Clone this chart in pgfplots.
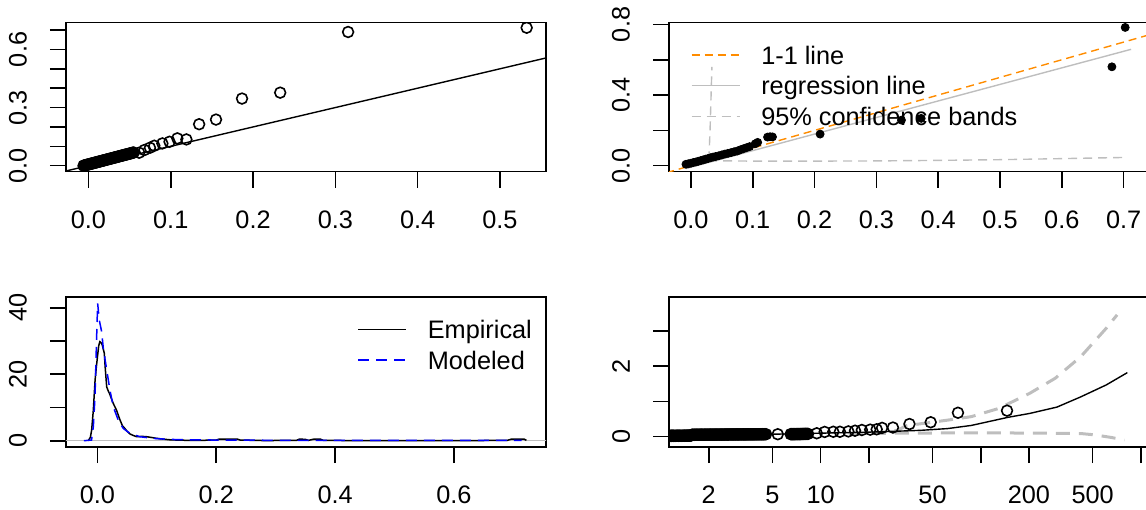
\documentclass[border=0pt]{standalone}
\usepackage{fontspec}
\setmainfont{Liberation Sans}
\usepackage{pgfplots}
\pgfplotsset{compat=1.18}

\definecolor{rorange}{HTML}{FF8C00}
\definecolor{rgray}{HTML}{BEBEBE}
\newcommand{\rtickfont}{\fontsize{12.65}{14.5}\selectfont}

\pgfplotsset{
  rbase/.style={
    scale only axis, width=240pt, anchor=south west,
    axis line style={line width=0.8pt},
    tick align=outside, tick pos=left, major tick length=8pt,
    tick style={line width=0.8pt, black},
    xminorticks=false, yminorticks=false,
    tick label style={font=\rtickfont},
    xticklabel style={anchor=center},
    yticklabel style={anchor=center, rotate=90},
    xticklabel shift=15.8pt, yticklabel shift=16pt,
    clip marker paths=true,
  },
  rlegend/.style={
    legend cell align=left,
    legend image code/.code={\draw[##1] (0pt,0pt) -- (24pt,0pt); \path (34.5pt,0pt);},
    legend style={draw=none, fill=none, inner sep=0pt, outer sep=0pt,
      row sep=6.34pt, column sep=0pt, font=\rtickfont,
      nodes={inner sep=0pt, text height=9.06pt, text depth=0pt}},
  },
  rcirc/.style={only marks, mark=o, mark size=2.7pt, mark options={line width=0.8pt, black}},
}

\begin{document}
\begin{tikzpicture}
\path[use as bounding box] (0,0) rectangle (573pt,254.5pt);
\clip (0,0) rectangle (573pt,254.5pt);

% top left: model vs empirical quantiles
\begin{axis}[rbase, at={(33pt,168.65pt)}, height=74.6pt,
  xmin=-0.0273, xmax=0.556, ymin=-0.031, ymax=0.739,
  xtick={0,0.1,0.2,0.3,0.4,0.5}, xticklabels={0.0,0.1,0.2,0.3,0.4,0.5},
  ytick={0,0.1,0.2,0.3,0.4,0.5,0.6,0.7}, yticklabels={0.0,,,0.3,,,0.6,}]
\addplot[black, line width=0.7pt] coordinates {(-0.04,-0.04) (0.6,0.6)};
\addplot[rcirc] coordinates {
 (-0.006,0.0000) (-0.005,0.0011) (-0.004,0.0022) (-0.003,0.0033) (-0.002,0.0045)
 (-0.001,0.0056) (0.000,0.0067) (0.001,0.0078) (0.002,0.0089) (0.003,0.0100)
 (0.004,0.0112) (0.005,0.0123) (0.006,0.0134) (0.007,0.0145) (0.008,0.0156)
 (0.009,0.0167) (0.010,0.0178) (0.011,0.0190) (0.012,0.0201) (0.013,0.0212)
 (0.014,0.0223) (0.015,0.0234) (0.016,0.0245) (0.017,0.0256) (0.018,0.0268)
 (0.019,0.0279) (0.020,0.0290) (0.021,0.0301) (0.022,0.0312) (0.023,0.0323)
 (0.024,0.0335) (0.025,0.0346) (0.026,0.0357) (0.027,0.0368) (0.028,0.0379)
 (0.029,0.0390) (0.030,0.0401) (0.031,0.0413) (0.032,0.0424) (0.033,0.0435)
 (0.034,0.0446) (0.035,0.0457) (0.036,0.0468) (0.037,0.0479) (0.038,0.0491)
 (0.039,0.0502) (0.040,0.0513) (0.041,0.0524) (0.042,0.0535) (0.043,0.0546)
 (0.044,0.0558) (0.045,0.0569) (0.046,0.0580) (0.047,0.0591) (0.048,0.0602)
 (0.049,0.0613) (0.050,0.0624) (0.051,0.0636) (0.052,0.0647) (0.053,0.0658)
 (0.054,0.0669) (0.055,0.0680)
 (0.0616,0.067) (0.068,0.081) (0.0747,0.0926) (0.080,0.103)
 (0.0898,0.115) (0.0985,0.1235) (0.108,0.141) (0.119,0.1355) (0.1345,0.214)
 (0.155,0.238) (0.1866,0.3465) (0.233,0.377) (0.3155,0.690) (0.5325,0.712)};
\end{axis}

% top right: qq plot with regression line
\begin{axis}[rbase, rlegend, at={(334.5pt,168.65pt)}, height=74.6pt,
  xmin=-0.0354, xmax=0.741, ymin=-0.034, ymax=0.811,
  xtick={0,0.1,0.2,0.3,0.4,0.5,0.6,0.7}, xticklabels={0.0,0.1,0.2,0.3,0.4,0.5,0.6,0.7},
  ytick={0,0.2,0.4,0.6,0.8}, yticklabels={0.0,,0.4,,0.8},
  legend style={at={(0.0456,0.843)}, anchor=north west}]
\addplot[forget plot, rorange, line width=0.7pt, dash pattern=on 4pt off 2.5pt] coordinates {(-0.04,-0.04) (0.75,0.75)};
\addplot[forget plot, rgray, line width=0.7pt] coordinates {(-0.008,-0.0159) (0.712,0.659)};
\addplot[forget plot, rgray, line width=0.7pt, dash pattern=on 4.5pt off 3pt] coordinates {(0.029,0.03) (0.031,0.2) (0.034,0.56)};
\addplot[forget plot, rgray, line width=0.7pt, dash pattern=on 4.5pt off 3pt] coordinates {
 (0.028,0.028) (0.1,0.026) (0.2,0.026) (0.3,0.027) (0.4,0.030) (0.5,0.034) (0.6,0.040) (0.706,0.047)};
\addplot[forget plot, only marks, mark=*, mark size=2pt, black] coordinates {
 (-0.008,0.008) (-0.004,0.011) (0.000,0.014) (0.004,0.018) (0.008,0.021) (0.012,0.025)
 (0.016,0.029) (0.020,0.033) (0.024,0.037) (0.028,0.041) (0.032,0.045) (0.036,0.049)
 (0.040,0.052) (0.045,0.056) (0.050,0.061) (0.055,0.066) (0.060,0.070) (0.065,0.074)
 (0.070,0.079) (0.075,0.083) (0.080,0.090) (0.085,0.096) (0.090,0.102) (0.095,0.108)
 (0.104,0.124) (0.108,0.132) (0.124,0.162) (0.128,0.164) (0.132,0.163) (0.209,0.179)
 (0.3406,0.258) (0.3725,0.268) (0.681,0.560) (0.7025,0.783)};
\addlegendimage{rorange, line width=0.7pt, dash pattern=on 4pt off 2.5pt}
\addlegendentry{1-1 line}
\addlegendimage{rgray, line width=0.7pt}
\addlegendentry{regression line}
\addlegendimage{rgray, line width=0.7pt, dash pattern=on 4.5pt off 3pt}
\addlegendentry{95\% confidence bands}
\end{axis}

% bottom left: density
\begin{axis}[rbase, rlegend, at={(33pt,31pt)}, height=74.85pt,
  xmin=-0.053, xmax=0.755, ymin=-1.89, ymax=43.13,
  xtick={0,0.2,0.4,0.6}, xticklabels={0.0,0.2,0.4,0.6},
  ytick={0,10,20,30,40}, yticklabels={0,,20,,40},
  legend style={at={(0.607,0.8467)}, anchor=north west}]
\addplot[forget plot, rgray, line width=0.7pt] coordinates {(-0.1,0) (0.8,0)};
\addplot[forget plot, black, line width=0.75pt] coordinates {
 (-0.0155,0) (-0.012,1) (-0.0098,3.2) (-0.007,9.2) (-0.004,18.3) (-0.002,22)
 (0.0,25.3) (0.002,28.5) (0.004,29.8) (0.006,29.5) (0.008,28.8) (0.0115,26.3)
 (0.013,22) (0.0155,16.2) (0.018,15) (0.02,14.3) (0.0266,11.2) (0.032,9.2)
 (0.038,6.2) (0.042,4.5) (0.046,3.7) (0.05,2.8) (0.055,2.0) (0.06,1.6) (0.066,1.2)
 (0.075,1.3) (0.083,1.2) (0.09,1.0) (0.1,0.7) (0.11,0.5) (0.12,0.3) (0.14,0.15)
 (0.17,0.1) (0.2,0.2) (0.205,0.5) (0.235,0.5) (0.24,0.2) (0.28,0.05) (0.335,0.1)
 (0.34,0.5) (0.35,0.4) (0.355,0.1) (0.36,0.3) (0.365,0.5) (0.375,0.5) (0.38,0.1)
 (0.45,0.02) (0.6,0.02) (0.69,0.1) (0.697,0.5) (0.718,0.5) (0.722,0.1)};
\addplot[forget plot, blue, line width=0.75pt, dash pattern=on 5.5pt off 3.5pt] coordinates {
 (-0.023,0) (-0.01,0.2) (-0.007,4.2) (-0.0042,13.2) (-0.0025,24.3) (-0.0014,31.3)
 (0.0003,41.3) (0.003,36.3) (0.007,32.8) (0.0098,27.8) (0.0155,21.3) (0.021,15.2)
 (0.0266,10.2) (0.035,6.2) (0.0434,3.7) (0.0547,2.2) (0.0716,1.2) (0.094,0.7)
 (0.12,0.4) (0.16,0.25) (0.25,0.15) (0.4,0.1) (0.6,0.08) (0.714,0.07)};
\addlegendimage{black, line width=0.75pt}
\addlegendentry{Empirical}
\addlegendimage{blue, line width=0.75pt, dash pattern=on 5.5pt off 3.5pt}
\addlegendentry{Modeled}
\end{axis}

% bottom right: return levels
\begin{axis}[rbase, at={(334.5pt,31pt)}, height=74.85pt,
  xmode=log, log basis x=10,
  xmin=1.13, xmax=1125, ymin=-0.293, ymax=3.96,
  xtick={2,5,10,20,50,100,200,500,1000}, xticklabels={2,5,10,,50,,200,500,},
  ytick={0,1,2,3}, yticklabels={0,,2,}]
\addplot[rgray, line width=1.5pt, dash pattern=on 7pt off 4.5pt] coordinates {
 (15,0.08) (23.6,0.095) (30.7,0.19) (34,0.31) (62,0.47) (87.5,0.57) (129,0.80)
 (202,1.23) (292,1.66) (421,2.27) (608,3.08) (711,3.46)};
\addplot[rgray, line width=1.5pt, dash pattern=on 7pt off 4.5pt] coordinates {
 (15,0.08) (30,0.10) (100,0.11) (250,0.10) (421,0.09) (519,0.05) (650,-0.02) (790,-0.095)};
\addplot[black, line width=0.7pt] coordinates {
 (1.13,0.02) (2,0.04) (5,0.07) (10,0.10) (20,0.13) (27.6,0.15) (42,0.18) (62,0.23)
 (87.5,0.32) (148,0.55) (202,0.66) (299,0.84) (421,1.13) (608,1.47) (824,1.82)};
\addplot[rcirc] coordinates {
 (1.08,0.026) (1.09,0.025) (1.10,0.025) (1.11,0.026) (1.12,0.027) (1.13,0.026)
 (1.15,0.026) (1.16,0.025) (1.17,0.024) (1.18,0.026) (1.19,0.027) (1.20,0.026)
 (1.21,0.026) (1.23,0.025) (1.24,0.025) (1.26,0.027) (1.27,0.028) (1.29,0.027)
 (1.30,0.026) (1.32,0.027) (1.33,0.027) (1.35,0.026) (1.36,0.026) (1.38,0.027)
 (1.39,0.028) (1.41,0.028) (1.42,0.027) (1.44,0.028) (1.45,0.029) (1.47,0.029)
 (1.48,0.028) (1.50,0.029) (1.51,0.030) (1.53,0.030) (1.55,0.031)
 (1.57,0.055) (1.59,0.055) (1.61,0.055) (1.63,0.055) (1.65,0.056) (1.67,0.056)
 (1.69,0.056) (1.71,0.056) (1.73,0.056) (1.75,0.056) (1.77,0.057) (1.79,0.057)
 (1.81,0.057) (1.83,0.057) (1.85,0.057) (1.88,0.057) (1.90,0.058) (1.92,0.058)
 (1.95,0.058) (1.97,0.058) (2.00,0.058) (2.02,0.059) (2.05,0.059) (2.07,0.059)
 (2.10,0.059) (2.12,0.059) (2.15,0.059) (2.17,0.060) (2.20,0.060) (2.23,0.060)
 (2.25,0.060) (2.28,0.060) (2.31,0.060) (2.34,0.061) (2.37,0.061) (2.40,0.061)
 (2.43,0.061) (2.46,0.061) (2.49,0.061) (2.52,0.062) (2.55,0.062) (2.58,0.062)
 (2.61,0.062) (2.64,0.062) (2.67,0.062) (2.71,0.063) (2.74,0.063) (2.78,0.063)
 (2.81,0.063) (2.85,0.063) (2.88,0.063) (2.92,0.064) (2.95,0.064) (2.99,0.064)
 (3.03,0.064) (3.06,0.064) (3.10,0.064) (3.14,0.065) (3.18,0.065) (3.22,0.065)
 (3.26,0.065) (3.30,0.065) (3.34,0.065) (3.38,0.066) (3.42,0.066) (3.46,0.066)
 (3.50,0.066) (3.55,0.066) (3.59,0.066) (3.64,0.067) (3.68,0.067) (3.73,0.067)
 (3.77,0.067) (3.82,0.067) (3.87,0.067) (3.92,0.068) (3.96,0.068) (4.01,0.068)
 (4.06,0.068) (4.11,0.068) (4.17,0.068) (4.22,0.069) (4.27,0.069) (4.32,0.069)
 (4.38,0.069) (4.44,0.069) (4.50,0.070) (4.56,0.070)
 (5.40,0.070)
 (6.50,0.072) (6.58,0.072) (6.66,0.072) (6.74,0.073) (6.82,0.073) (6.90,0.073)
 (6.99,0.073) (7.07,0.074) (7.16,0.074) (7.25,0.075) (7.34,0.075) (7.43,0.075)
 (7.52,0.076) (7.61,0.076) (7.71,0.077) (7.80,0.077) (7.90,0.078) (8.00,0.078)
 (8.10,0.079) (8.22,0.079) (8.34,0.080)
 (9.46,0.097) (10.6,0.135) (12.0,0.14) (13.2,0.14) (14.9,0.15) (16.4,0.17)
 (18.1,0.19) (20.4,0.20) (22.4,0.21) (24.2,0.25) (28.3,0.26) (35.9,0.36)
 (48.7,0.41) (72.1,0.68) (146,0.74)};
\end{axis}
\end{tikzpicture}
\end{document}
